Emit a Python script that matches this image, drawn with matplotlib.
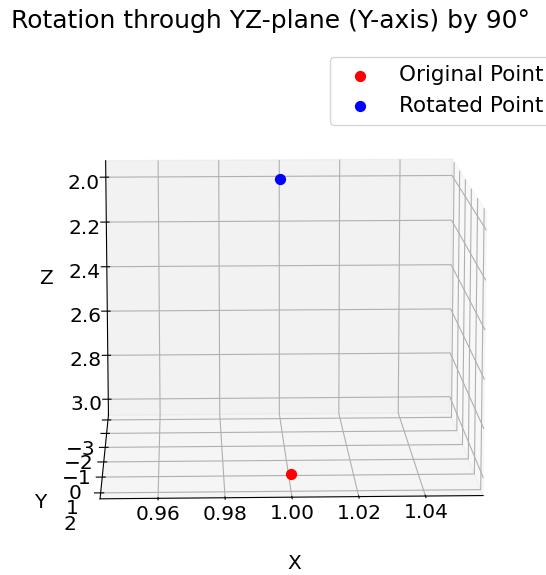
import numpy as np
import matplotlib
matplotlib.use('Agg')
import matplotlib.pyplot as plt

# Point before and after a 90 degree rotation in the YZ-plane
original_point = [1, 2, 3]
rotated_point = [1, -3, 2]
point_labels = ['Original Point', 'Rotated Point']
point_colors = ['red', 'blue']

fig = plt.figure(figsize=(5.46, 5.75), dpi=100)
ax = fig.add_subplot(111, projection='3d')
ax.set_position([-0.040, -0.062, 1.097, 0.984])

for pt, lab, col in zip([original_point, rotated_point], point_labels, point_colors):
    ax.scatter(pt[0], pt[1], pt[2], color=col, s=50, label=lab, depthshade=False)

ax.view_init(elev=190.8, azim=-88)
ax.set_xlabel('X', fontsize=14.5, labelpad=16)
ax.set_ylabel('Y', fontsize=14.5, labelpad=17)
ax.set_zlabel('Z', fontsize=14.5, labelpad=18)
ax.tick_params(labelsize=14.5)
ax.xaxis.set_tick_params(pad=-4)
ax.yaxis.set_tick_params(pad=9)
ax.zaxis.set_tick_params(pad=6)
fig.suptitle('Rotation through YZ-plane (Y-axis) by 90°', fontsize=18, x=0.495, y=0.985)
fig.legend(loc='upper right', bbox_to_anchor=(1.03, 0.92), fontsize=15.5)

fig.savefig('out.png', dpi=100)
